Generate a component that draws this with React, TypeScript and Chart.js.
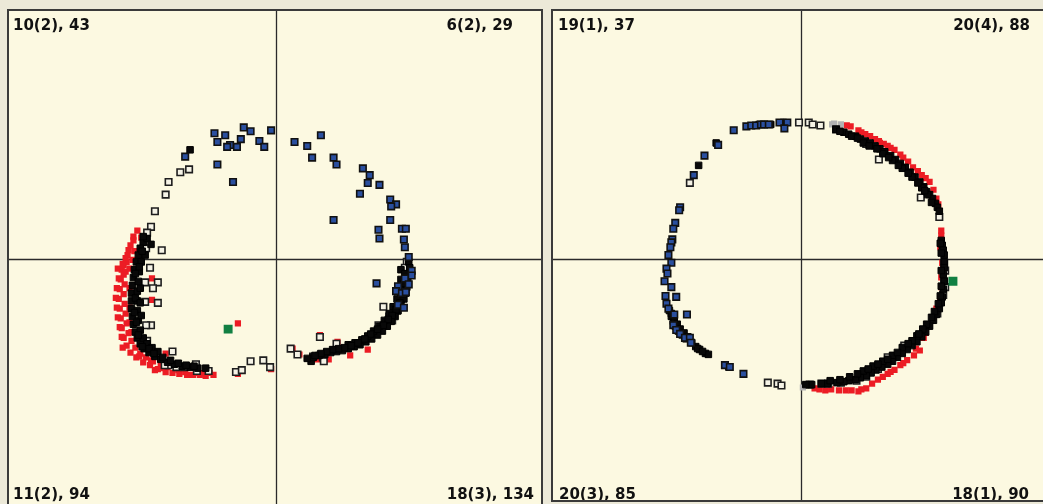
import React, { useEffect, useRef } from "react";
import { Chart, registerables } from "chart.js";

Chart.register(...registerables);

type P = { x: number; y: number };
const pts = (a: number[][]): P[] => a.map(([x, y]) => ({ x, y }));

// ---------- Left panel data (axis units centred on the crosshair) ----------
const leftLabels = ["10(2), 43", "6(2), 29", "11(2), 94", "18(3), 134"];

const leftBlue = [
  [-63, 129], [-52, 127], [-60, 120], [-36, 123], [-33, 135], [-26, 131], [-5, 132], [-17, 121],
  [-12, 115], [-47, 117], [-50, 115], [-40, 115], [19, 120], [-60, 97], [-44, 79], [-93, 105],
  [32, 116], [46, 127], [37, 104], [59, 104], [62, 97], [89, 93], [96, 86], [94, 78],
  [106, 76], [86, 67], [117, 61], [123, 56], [118, 54], [59, 40], [117, 40], [105, 30],
  [129, 31], [133, 31], [106, 21], [131, 20], [132, 12], [136, 2], [139, -12], [139, -17],
  [132, -20], [136, -26], [125, -28], [123, -33], [129, -35], [133, -34], [125, -47], [131, -50],
  [103, -25],
];

const leftHollow = [
  [-98, 89], [-89, 92], [-110, 79], [-113, 66], [-124, 49], [-128, 33], [-132, 27], [-117, 9],
  [-133, 11], [-121, -24], [-134, -24], [-121, -45], [-134, -44], [-128, -68], [-133, -68], [-132, -84],
  [-106, -95], [-110, -109], [-114, -109], [-102, -111], [-94, -111], [-82, -108], [-81, -115], [-69, -115],
  [-41, -116], [-35, -114], [-26, -105], [-13, -104], [-6, -111], [15, -92], [22, -98], [45, -80],
  [62, -87], [38, -100], [48, -101], [49, -105], [110, -49], [116, -59], [105, -68], [119, -63],
  [124, -53], [134, -3], [132, -9], [128, -41], [-129, -9], [-126, -30],
];

const leftRed = [
  [-146, 19], [-149, 14], [-151, 9], [-154, 1], [-156, -6], [-158, -11], [-159, -21], [-160, -31],
  [-161, -41], [-160, -51], [-159, -61], [-158, -71], [-156, -81], [-153, -89], [-149, -96], [-143, -101],
  [-136, -106], [-129, -109], [-121, -113], [-113, -116], [-106, -117], [-99, -118], [-91, -119], [-85, -119],
  [-78, -119], [-72, -120], [-64, -119], [-152, 4], [-153, -3], [-154, -13], [-155, -26], [-156, -36],
  [-155, -46], [-154, -56], [-153, -66], [-151, -76], [-148, -84], [-144, -91], [-139, -97], [-133, -101],
  [-126, -105], [-118, -109], [-111, -111], [-127, -20], [-127, -42], [-124, -114], [-113, -97], [-39, -118],
  [-5, -113], [-39, -66], [-146, 23], [-142, 29], [-138, 22], [-156, -16], [-157, -91], [17, -92],
  [24, -98], [45, -78], [63, -85], [42, -103], [54, -103], [76, -99], [94, -93],
  [-163, -30], [-163, -50], [-162, -60], [-161, -20], [-160, -70], [-158, -80], [-157, -5], [-150, -10],
  [-150, -30], [-150, -50], [-150, -65], [-148, -75], [-147, -1], [-145, 8], [-140, -100], [-128, -104],
  [-115, -112], [-100, -114], [-93, -116], [-82, -117], [-75, -117], [-68, -117], [-164, -40], [-162, -10],
];

const leftBlack = [
  [-136, 17], [-139, 11], [-141, 4], [-143, -3], [-145, -11], [-146, -19], [-147, -27], [-148, -35],
  [-148, -43], [-148, -51], [-147, -59], [-146, -67], [-144, -75], [-142, -81], [-139, -87], [-135, -92],
  [-130, -96], [-124, -100], [-118, -103], [-111, -106], [-104, -108], [-96, -110], [-88, -111], [-80, -112],
  [-72, -112], [-138, -3], [-140, -13], [-141, -23], [-142, -33], [-142, -43], [-142, -53], [-141, -63],
  [-139, -73], [-136, -81], [-132, -87], [-127, -91], [-121, -95], [-134, 4], [-132, 21], [-128, 15],
  [-136, 23], [-88, 112], [36, -105],
  [-144, -15], [-144, -40], [-145, -55], [-143, -65], [-141, -78], [-137, -90], [-130, -92], [-125, -97],
  [-116, -101], [-108, -104], [-100, -107], [-92, -109], [-84, -110], [-140, -8], [-139, -30], [-139, -45],
  [-138, -58], [-137, 8],
  [136, -3], [137, -9], [136, -16], [135, -23], [134, -29], [133, -35], [131, -41], [128, -47],
  [125, -53], [122, -59], [118, -64], [114, -69], [109, -74], [104, -78], [98, -82], [92, -85],
  [86, -88], [80, -90], [74, -92], [68, -94], [62, -95], [56, -96], [50, -98], [44, -99],
  [38, -101], [32, -102], [128, -11], [128, -21], [127, -31], [124, -41], [120, -49], [116, -56],
  [111, -63], [106, -69], [100, -74], [94, -79], [88, -83], [81, -86], [74, -88],
  [132, -15], [131, -25], [130, -36], [127, -45], [123, -52], [119, -58], [115, -62], [110, -68],
  [104, -72], [97, -77], [91, -82], [84, -86], [77, -89], [70, -91], [64, -92], [58, -93],
  [52, -95], [46, -97], [40, -99],
];

const leftGreen = [[-49, -72]];
const leftGray: number[][] = [];

// ---------- Right panel data ----------
const rightLabels = ["19(1), 37", "20(4), 88", "20(3), 85", "18(1), 90"];

const rightBlue = [
  [-69, 132], [-56, 136], [-51, 137], [-46, 137], [-41, 138], [-38, 138], [-33, 138], [-22, 140],
  [-14, 140], [-17, 134], [-85, 117], [-99, 106], [-110, 86], [-124, 53], [-125, 50], [-129, 37],
  [-131, 31], [-132, 20], [-133, 17], [-134, 12], [-136, 4], [-133, -4], [-138, -10], [-137, -15],
  [-140, -23], [-133, -29], [-139, -38], [-128, -39], [-138, -46], [-136, -51], [-130, -57], [-117, -57],
  [-131, -68], [-128, -73], [-124, -77], [-119, -81], [-114, -81], [-113, -86], [-78, -109], [-73, -111],
  [-59, -118],
];

const rightHollow = [
  [-2, 140], [8, 140], [12, 138], [20, 137], [36, 133], [67, 118], [80, 102], [123, 63],
  [142, 43], [148, -12], [147, -4], [147, -23], [148, -29], [146, -37], [140, -56], [131, -68],
  [106, -89], [89, -101], [79, -113], [67, -121], [57, -125], [41, -127], [28, -128], [9, -129],
  [-34, -127], [-24, -128], [-20, -130], [21, -128], [-114, 78],
];

const rightRed = [
  [47, 137], [51, 136], [59, 132], [66, 128], [71, 126], [76, 123], [81, 119], [85, 118],
  [89, 116], [96, 112], [102, 107], [105, 104], [115, 94], [124, 86], [132, 79], [136, 71],
  [139, 62], [141, 56], [144, 29], [144, 24], [143, 12], [145, -4], [144, -19], [144, -29],
  [139, -51], [131, -68], [126, -81], [122, -94], [116, -99], [109, -104], [102, -109], [96, -114],
  [89, -118], [79, -124], [73, -128], [67, -133], [59, -136], [52, -135], [46, -135], [39, -135],
  [31, -134], [19, -134], [14, -133],
  [62, 130], [80, 121], [92, 114], [110, 100], [120, 90], [128, 83], [146, -10], [143, -40],
  [136, -60], [128, -76], [118, -92], [105, -107], [92, -116], [84, -121], [62, -134], [25, -135],
];

const rightBlack = [
  [-87, 119], [-105, 96], [-135, -53], [-133, -59], [-131, -64], [-129, -69], [-126, -74], [-122, -78],
  [-118, -82], [-108, -90], [-104, -93], [-98, -97], [-95, -98], [-74, -111], [-43, 138], [-37, 138],
  [-31, 138], [-18, 140],
  [-133, -56], [-130, -62], [-127, -67], [-124, -72], [-120, -76], [-116, -80], [-112, -86], [-106, -92],
  [-101, -95],
  [36, 133], [44, 130], [49, 128], [56, 126], [61, 123], [66, 121], [71, 119], [76, 116],
  [81, 113], [86, 110], [92, 106], [97, 102], [102, 98], [107, 94], [112, 89], [117, 84],
  [122, 79], [126, 74], [129, 69], [132, 66], [135, 62], [138, 57], [140, 53], [142, 49],
  [144, 19], [145, 14], [146, 9], [147, 4], [147, -3], [147, -9], [146, -16], [147, -23],
  [146, -31], [145, -39], [144, -45], [142, -51], [139, -57], [136, -63], [132, -69], [128, -75],
  [124, -80], [119, -85], [114, -89], [109, -93], [104, -97], [99, -101], [94, -105], [89, -108],
  [83, -111], [77, -114], [72, -117], [67, -120], [61, -122], [56, -124], [49, -125], [44, -126],
  [37, -127], [27, -128], [21, -128], [11, -129], [5, -129],
  [84, 108], [94, 101], [104, 93], [114, 84], [124, 73], [130, 66], [119, -79], [114, -84],
  [104, -91], [94, -99], [84, -105], [74, -110], [64, -115],
  [40, 131], [52, 126], [58, 124], [64, 119], [70, 116], [78, 113], [90, 104], [100, 96],
  [110, 88], [120, 78], [127, 70], [134, 58], [143, 16], [144, 6], [144, -12], [144, -28],
  [143, -38], [141, -46], [137, -54], [134, -60], [129, -67], [125, -72], [121, -77], [110, -87],
  [99, -96], [89, -103], [79, -108], [69, -113], [58, -118], [50, -121], [40, -124], [30, -125],
];

const rightGreen = [[156, -23]];
const rightGray = [[2, -132], [32, 138], [41, 138], [34, 139]];

// ---------- Chart helpers ----------
const BG = "#FCF9E1";

function makeDatasets(blue: number[][], hollow: number[][], red: number[][], black: number[][], green: number[][], gray: number[][]) {
  return [
    { label: "red", data: pts(red), order: 6, pointStyle: "rect", pointRadius: 4.4, backgroundColor: "#EC1C24", borderWidth: 0 },
    { label: "gray", data: pts(gray), order: 5, pointStyle: "rect", pointRadius: 4.4, backgroundColor: "#B2B2B2", borderWidth: 0 },
    { label: "hollow", data: pts(hollow), order: 4, pointStyle: "rect", pointRadius: 4.6, backgroundColor: "#F5F3E6", borderColor: "#1E1E1E", borderWidth: 1.6 },
    { label: "black", data: pts(black), order: 3, pointStyle: "rect", pointRadius: 4.6, backgroundColor: "#080808", borderColor: "#000", borderWidth: 1 },
    { label: "blue", data: pts(blue), order: 2, pointStyle: "rect", pointRadius: 4.6, backgroundColor: "#2A4F9F", borderColor: "#111", borderWidth: 1.6 },
    { label: "green", data: pts(green), order: 1, pointStyle: "rect", pointRadius: 6.3, backgroundColor: "#118042", borderWidth: 0 },
  ];
}

type PanelProps = {
  width: number;
  height: number;
  xMin: number; xMax: number; yMin: number; yMax: number;
  labels: string[];
  labelPos: number[][]; // [x, baseline, align(0 left / 1 right)]
  blue: number[][]; hollow: number[][]; red: number[][]; black: number[][]; green: number[][]; gray: number[][];
};

function Panel(p: PanelProps) {
  const ref = useRef<HTMLCanvasElement | null>(null);
  useEffect(() => {
    const canvas = ref.current!;
    const decor = {
      id: "decor",
      beforeDraw(chart: any) {
        const ctx = chart.ctx;
        ctx.save();
        ctx.fillStyle = BG;
        ctx.fillRect(0, 0, chart.width, chart.height);
        ctx.restore();
      },
      beforeDatasetsDraw(chart: any) {
        const ctx = chart.ctx;
        const x0 = Math.round(chart.scales.x.getPixelForValue(0)) + 0.5;
        const y0 = Math.round(chart.scales.y.getPixelForValue(0)) + 0.5;
        ctx.save();
        ctx.strokeStyle = "#2A2A2A";
        ctx.lineWidth = 1.3;
        ctx.beginPath();
        ctx.moveTo(x0, 0); ctx.lineTo(x0, chart.height);
        ctx.moveTo(0, y0); ctx.lineTo(chart.width, y0);
        ctx.stroke();
        ctx.restore();
      },
      afterDraw(chart: any) {
        const ctx = chart.ctx;
        ctx.save();
        ctx.fillStyle = "#111";
        ctx.font = 'bold 15px "DejaVu Sans"';
        p.labels.forEach((t, i) => {
          const [x, y, a] = p.labelPos[i];
          ctx.textAlign = a ? "right" : "left";
          ctx.fillText(t, x, y);
        });
        ctx.restore();
      },
    };
    const chart = new Chart(canvas, {
      type: "scatter",
      data: { datasets: makeDatasets(p.blue, p.hollow, p.red, p.black, p.green, p.gray) as any },
      options: {
        responsive: false,
        animation: false,
        devicePixelRatio: 1,
        layout: { padding: 0 },
        scales: {
          x: { type: "linear", min: p.xMin, max: p.xMax, display: false },
          y: { type: "linear", min: p.yMin, max: p.yMax, display: false },
        },
        plugins: { legend: { display: false }, tooltip: { enabled: false } },
        events: [],
      },
      plugins: [decor],
    });
    return () => chart.destroy();
  }, []);
  return <canvas ref={ref} width={p.width} height={p.height} style={{ display: "block", width: p.width, height: p.height }} />;
}

export default function App() {
  return (
    <div style={{ position: "fixed", left: 0, top: 0, width: 1043, height: 504, background: "#ECE9D8", overflow: "hidden" }}>
      <div style={{ position: "absolute", left: 7, top: 9, border: "2px solid #3A3A3A", width: 532, height: 495 }}>
        <Panel
          width={532} height={495}
          xMin={-267} xMax={265} yMin={-247} yMax={248}
          labels={leftLabels}
          labelPos={[[4, 19, 0], [504, 19, 1], [4, 488, 0], [525, 488, 1]]}
          blue={leftBlue} hollow={leftHollow} red={leftRed} black={leftBlack} green={leftGreen} gray={leftGray}
        />
      </div>
      <div style={{ position: "absolute", left: 551, top: 9, border: "2px solid #3A3A3A", width: 492, height: 489 }}>
        <Panel
          width={492} height={489}
          xMin={-248} xMax={244} yMin={-241} yMax={248}
          labels={rightLabels}
          labelPos={[[5, 19, 0], [477, 19, 1], [6, 488, 0], [476, 488, 1]]}
          blue={rightBlue} hollow={rightHollow} red={rightRed} black={rightBlack} green={rightGreen} gray={rightGray}
        />
      </div>
    </div>
  );
}
